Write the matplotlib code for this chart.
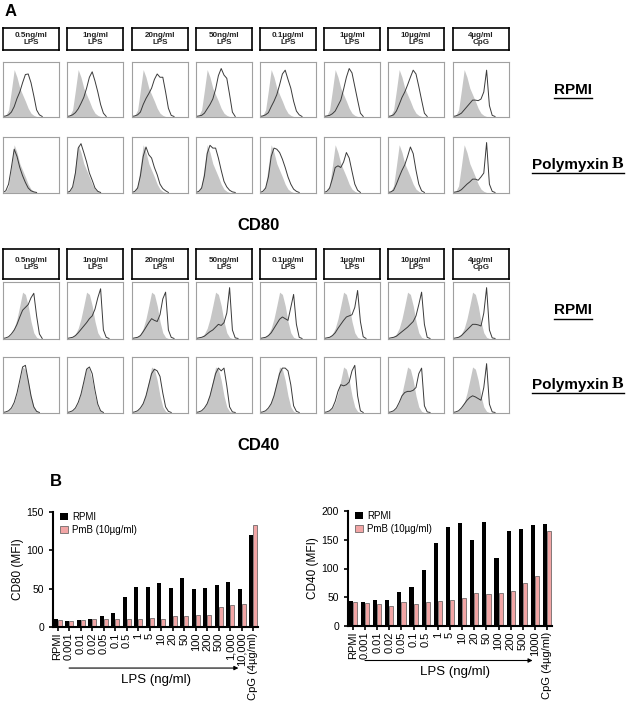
import numpy as np
import matplotlib.pyplot as plt
from matplotlib.lines import Line2D

plt.rcParams['font.family'] = ['Liberation Sans', 'DejaVu Sans']

W, H = 629, 701
fig = plt.figure(figsize=(6.29, 7.01), dpi=100)


def box(x0, y0, x1, y1):
    # axes placed by pixel corners (top-left origin)
    return fig.add_axes([x0 / W, 1 - y1 / H, (x1 - x0) / W, (y1 - y0) / H])


# ---- panel A data: flow histograms, heights (% of panel) on a 5% grid ----
grid = [0, 5, 10, 15, 20, 25, 30, 35, 40, 45, 50, 55, 60, 65, 70, 75, 80, 85, 90, 95, 100]
conditions = ['0.5ng/ml\nLPS', '1ng/ml\nLPS', '20ng/ml\nLPS', '50ng/ml\nLPS',
              '0.1µg/ml\nLPS', '1µg/ml\nLPS', '10µg/ml\nLPS', '4µg/ml\nCpG']

ctrl_cd80 = [0, 2, 12, 48, 86, 72, 52, 40, 28, 15, 6, 2, 0]
cd80_rpmi = [
    [0, 1, 3, 8, 18, 33, 45, 62, 77, 78, 62, 38, 12, 3, 0],
    [0, 1, 3, 7, 14, 24, 35, 52, 72, 82, 65, 45, 22, 6, 0],
    [0, 1, 3, 8, 22, 33, 42, 52, 68, 78, 72, 72, 45, 15, 2, 0],
    [0, 1, 2, 6, 14, 22, 32, 50, 75, 88, 76, 70, 40, 8, 0],
    [0, 1, 3, 7, 18, 28, 40, 58, 78, 85, 68, 52, 28, 10, 3, 0],
    [0, 1, 2, 5, 10, 20, 30, 50, 72, 88, 80, 55, 30, 6, 0],
    [0, 1, 3, 10, 22, 35, 45, 58, 72, 85, 78, 55, 30, 6, 0],
    [0, 1, 3, 6, 12, 18, 24, 30, 30, 29, 32, 45, 85, 20, 2, 0],
]
cd80_pmb = [
    [0, 3, 15, 45, 78, 65, 45, 30, 18, 8, 3, 1, 0],
    [0, 2, 10, 35, 80, 88, 72, 55, 35, 22, 8, 2, 0],
    [0, 2, 8, 30, 65, 82, 68, 62, 45, 32, 15, 7, 3, 0],
    [0, 2, 8, 30, 70, 85, 80, 80, 62, 40, 20, 10, 4, 1, 0],
    [0, 2, 8, 28, 65, 80, 78, 72, 60, 45, 28, 15, 6, 2, 0],
    [0, 2, 8, 25, 45, 48, 45, 55, 72, 62, 38, 15, 4, 0],
    [0, 1, 4, 15, 28, 40, 50, 65, 82, 70, 40, 15, 3, 0],
    [0, 1, 2, 5, 10, 15, 19, 24, 24, 22, 28, 35, 90, 15, 2, 0],
]

ctrl_cd40 = [0, 1, 3, 8, 18, 35, 58, 82, 78, 58, 30, 10, 2, 0]
cd40_rpmi = [
    [0, 1, 3, 8, 15, 25, 38, 50, 55, 60, 72, 80, 40, 8, 0],
    [0, 1, 2, 5, 10, 16, 22, 28, 35, 40, 52, 72, 88, 15, 2, 0],
    [0, 1, 2, 5, 12, 20, 28, 35, 32, 30, 42, 70, 82, 15, 2, 0],
    [0, 1, 2, 4, 8, 12, 15, 20, 25, 23, 28, 45, 90, 15, 1, 0],
    [0, 1, 2, 5, 10, 18, 26, 34, 38, 35, 32, 55, 78, 25, 2, 0],
    [0, 1, 2, 5, 10, 18, 25, 32, 38, 40, 42, 55, 85, 30, 3, 0],
    [0, 1, 2, 4, 8, 12, 16, 20, 25, 30, 40, 60, 82, 25, 2, 0],
    [0, 1, 2, 5, 10, 15, 20, 25, 25, 24, 22, 45, 90, 15, 1, 0],
]
cd40_pmb = [
    [0, 1, 3, 8, 18, 35, 58, 82, 85, 58, 30, 10, 2, 0],
    [0, 1, 3, 8, 18, 33, 55, 78, 82, 70, 40, 15, 3, 0],
    [0, 1, 3, 8, 16, 30, 50, 70, 78, 75, 65, 35, 10, 2, 0],
    [0, 1, 3, 8, 16, 30, 50, 70, 80, 75, 80, 48, 10, 1, 0],
    [0, 1, 3, 8, 16, 30, 50, 70, 80, 80, 75, 50, 12, 2, 0],
    [0, 1, 3, 8, 20, 38, 50, 48, 50, 55, 75, 85, 30, 3, 0],
    [0, 1, 3, 8, 18, 30, 36, 38, 38, 40, 45, 70, 80, 12, 1, 0],
    [0, 1, 3, 8, 15, 22, 27, 30, 28, 25, 22, 45, 88, 15, 1, 0],
]

# ---- panel B data: MFI bars ----
cats80 = ['RPMI', '0.001', '0.01', '0.02', '0.05', '0.1', '0.5', '1', '5', '10', '20',
          '50', '100', '200', '500', '1,000', '10,000', 'CpG (4µg/ml)']
rpmi80 = [10, 8, 9, 10, 14, 18, 39, 52, 52, 57, 51, 64, 50, 51, 55, 59, 49, 120]
pmb80 = [9, 8, 9, 11, 10, 10, 10, 11, 12, 11, 14, 14, 16, 16, 26, 29, 30, 133]

cats40 = ['RPMI', '0.001', '0.01', '0.02', '0.05', '0.1', '0.5', '1', '5', '10', '20',
          '50', '100', '200', '500', '1000', 'CpG (4µg/ml)']
rpmi40 = [44, 42, 45, 46, 59, 68, 97, 145, 173, 180, 149, 181, 118, 165, 169, 176, 177]
pmb40 = [41, 40, 38, 34, 42, 38, 42, 43, 46, 49, 57, 56, 57, 61, 75, 87, 165]

# ---- layout ----
lefts = [3, 67, 132, 196, 260, 324, 388, 453]
pw = 56
sets = [
    dict(head=(28, 50), rows=[(62, 117), (137, 193)], ctrl=ctrl_cd80,
         data=[cd80_rpmi, cd80_pmb], title='CD80', ty=225),
    dict(head=(249, 279), rows=[(282, 339), (357, 413)], ctrl=ctrl_cd40,
         data=[cd40_rpmi, cd40_pmb], title='CD40', ty=445),
]

underline = []
for s in sets:
    for i, x0 in enumerate(lefts):
        hx = box(x0, s['head'][0], x0 + pw, s['head'][1])
        hx.set_xticks([])
        hx.set_yticks([])
        for sp in hx.spines.values():
            sp.set_linewidth(1.2)
        hx.text(0.5, 0.5, conditions[i], ha='center', va='center', fontsize=5.8,
                fontweight='bold', color='#222222', linespacing=1.1, transform=hx.transAxes)
        for r, (y0, y1) in enumerate(s['rows']):
            ax = box(x0, y0, x0 + pw, y1)
            ctrl = s['ctrl']
            curve = s['data'][r][i]
            ax.fill_between(grid[:len(ctrl)], ctrl, color='#c6c6c6', lw=0)
            ax.plot(grid[:len(curve)], curve, color='#3a3a3a', lw=0.7)
            ax.set_xlim(0, 100)
            ax.set_ylim(-1, 100)
            ax.set_xticks([])
            ax.set_yticks([])
            for sp in ax.spines.values():
                sp.set_color('#a0a0a0')
                sp.set_linewidth(0.8)
    fig.text(258 / W, 1 - s['ty'] / H, s['title'], ha='center', va='center',
             fontsize=12, fontweight='bold')
    yr = (s['rows'][0][0] + s['rows'][0][1]) / 2
    yp = (s['rows'][1][0] + s['rows'][1][1]) / 2
    t1 = fig.text(573 / W, 1 - yr / H, 'RPMI', ha='center', va='center',
                  fontsize=11, fontweight='bold')
    t2 = fig.text(609 / W, 1 - yp / H, 'Polymyxin', ha='right', va='center',
                  fontsize=11, fontweight='bold')
    t3 = fig.text(612 / W, 1 - (yp - 1) / H, 'B', ha='left', va='center',
                  fontsize=12.5, fontweight='bold', family='Liberation Serif')
    underline.append((t1, t1))
    underline.append((t2, t3))

fig.text(5 / W, 1 - 11 / H, 'A', fontsize=12, fontweight='bold', va='center')
fig.text(50 / W, 1 - 482 / H, 'B', fontsize=12, fontweight='bold', va='center')

# ---- bar charts ----
pink = '#f2a5a5'


def bars(rect, cats, rpmi, pmb, ymax, yticks, ylabel, arrow, lps_x, arrow_y, lps_y):
    ax = box(*rect)
    x = np.arange(len(cats))
    ax.bar(x - 0.17, rpmi, width=0.34, color='black', label='RPMI')
    ax.bar(x + 0.17, pmb, width=0.34, color=pink, edgecolor='#555555', lw=0.5,
           label='PmB (10µg/ml)')
    ax.set_xlim(-0.4, len(cats) - 0.6)
    ax.set_ylim(0, ymax)
    ax.set_yticks(yticks)
    ax.set_xticks(x)
    ax.set_xticklabels(cats, rotation=90, fontsize=8)
    ax.tick_params(axis='y', labelsize=7.5, length=3, width=1.2)
    ax.tick_params(axis='x', length=3, width=1.2, pad=1)
    ax.spines['top'].set_visible(False)
    ax.spines['right'].set_visible(False)
    ax.spines['left'].set_linewidth(1.5)
    ax.spines['bottom'].set_linewidth(1.5)
    ax.set_ylabel(ylabel, fontsize=8.5, labelpad=2)
    ax.legend(loc='upper left', bbox_to_anchor=(0.0, 1.06), frameon=False, fontsize=7,
              handlelength=0.8, handleheight=0.8, handletextpad=0.5, labelspacing=0.3,
              borderaxespad=0.3)
    tr = ax.get_xaxis_transform()
    ax.annotate('', xy=(arrow[1], arrow_y), xytext=(arrow[0], arrow_y), xycoords=tr,
                textcoords=tr, annotation_clip=False,
                arrowprops=dict(arrowstyle='-|>', color='black', lw=0.8,
                                mutation_scale=6, shrinkA=0, shrinkB=0))
    ax.text(lps_x, lps_y, 'LPS (ng/ml)', transform=tr, ha='center', va='center',
            fontsize=9.5)


bars((53, 512, 258, 627), cats80, rpmi80, pmb80, 150, [0, 50, 100, 150], 'CD80 (MFI)',
     (1.0, 15.7), 8.5, -0.357, -0.46)
bars((348, 511, 552, 626), cats40, rpmi40, pmb40, 200, [0, 50, 100, 150, 200], 'CD40 (MFI)',
     (1.0, 14.8), 8.4, -0.30, -0.40)

# underline the row labels
fig.canvas.draw()
r = fig.canvas.get_renderer()
for a, b in underline:
    ea = a.get_window_extent(r)
    eb = b.get_window_extent(r)
    x0 = ea.x0 / W
    x1 = eb.x1 / W
    y = (min(ea.y0, eb.y0) - 1) / H
    fig.add_artist(Line2D([x0, x1], [y, y], color='black', lw=1.0,
                          transform=fig.transFigure))

fig.savefig('out.png', dpi=100)
